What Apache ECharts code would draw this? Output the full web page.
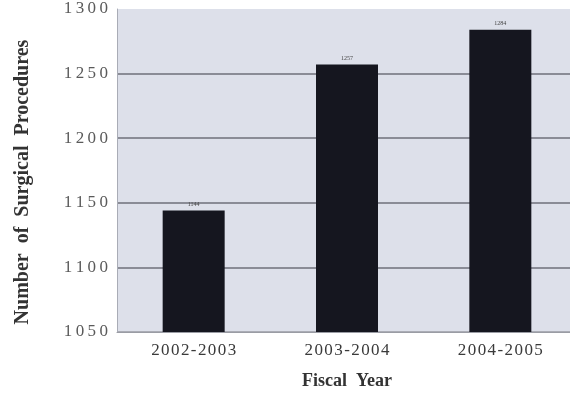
<!DOCTYPE html>
<html>
<head>
<meta charset="utf-8">
<script src="https://cdn.jsdelivr.net/npm/echarts@6/dist/echarts.min.js"></script>
<style>
  html, body { margin: 0; padding: 0; background: #ffffff; }
  #chart { width: 574px; height: 394px; }
</style>
</head>
<body>
<div id="chart"></div>
<script>
// Surgical procedures per fiscal year
const fiscalYears = ['2002-2003', '2003-2004', '2004-2005'];
const procedureCounts = [1144, 1257, 1284];
const yTicks = [1050, 1100, 1150, 1200, 1250, 1300];

const chart = echarts.init(document.getElementById('chart'), null, { renderer: 'canvas' });

const serif = '"Liberation Serif", "DejaVu Serif", serif';
// spread characters a little, like typewriter-style spacing
const spread = (s, sp) => s.split('').join(sp);

chart.setOption({
  animation: false,
  backgroundColor: '#ffffff',
  grid: {
    left: 117, right: -3, top: 9, bottom: 62,
    outerBoundsMode: 'none',
    containLabel: false,
    show: true,
    backgroundColor: '#dde0ea',
    borderWidth: 0
  },
  xAxis: {
    type: 'category',
    data: fiscalYears,
    name: 'Fiscal  Year',
    nameLocation: 'middle',
    nameGap: 40,
    nameTextStyle: { fontFamily: serif, fontSize: 18, fontWeight: 'bold', color: '#333333' },
    axisLine: { lineStyle: { color: '#9a9ca4', width: 1 } },
    axisTick: { show: false },
    axisLabel: {
      fontFamily: serif, fontSize: 17, color: '#3a3a3a', margin: 10,
      formatter: v => spread(v, '\u200A')
    }
  },
  yAxis: {
    type: 'value',
    min: yTicks[0],
    max: yTicks[yTicks.length - 1],
    interval: 50,
    axisLine: { show: true, lineStyle: { color: '#a9acb6', width: 1 } },
    axisTick: { show: false },
    axisLabel: {
      fontFamily: serif, fontSize: 17, color: '#5a5a5a', margin: 9,
      formatter: v => spread(String(v), '\u2009')
    },
    splitLine: {
      lineStyle: {
        color: ['#9a9ca4', '#6e717a', '#6e717a', '#6e717a', '#6e717a', 'rgba(0,0,0,0)'],
        width: 1.5
      }
    }
  },
  graphic: [
    {
      type: 'rect',
      right: 0, top: 0,
      shape: { width: 4, height: 394 },
      style: { fill: '#ffffff' },
      z: 100
    },
    {
      type: 'text',
      x: 23, y: 182,
      rotation: Math.PI / 2,
      style: {
        text: 'Number  of  Surgical  Procedures',
        fontFamily: serif, fontSize: 20, fontWeight: 'bold', fill: '#333333',
        align: 'center', verticalAlign: 'middle'
      }
    }
  ],
  series: [{
    type: 'bar',
    data: procedureCounts,
    barWidth: 62,
    itemStyle: { color: '#15161f' },
    label: {
      show: true,
      position: 'top',
      distance: 3,
      fontFamily: serif,
      fontSize: 6,
      color: '#444444'
    }
  }]
});
</script>
</body>
</html>
